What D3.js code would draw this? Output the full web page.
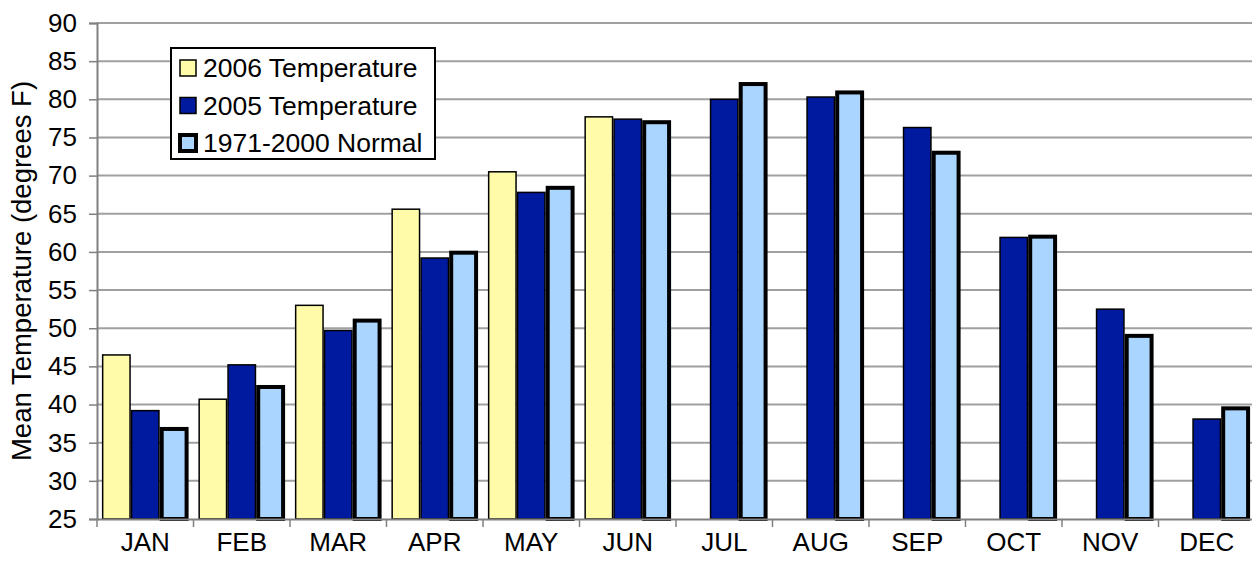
<!DOCTYPE html>
<html>
<head>
<meta charset="utf-8">
<script src="https://cdn.jsdelivr.net/npm/d3@7"></script>
<style>
  body { margin: 0; background: #fff; }
  text { font-family: "Liberation Sans", Arial, sans-serif; fill: #000; }
</style>
</head>
<body>
<svg></svg>
<script>
var months = ["JAN","FEB","MAR","APR","MAY","JUN","JUL","AUG","SEP","OCT","NOV","DEC"];
var series = ["2006 Temperature","2005 Temperature","1971-2000 Normal"];
var temp2006 = [46.5, 40.7, 53.0, 65.6, 70.5, 77.7, null, null, null, null, null, null];
var temp2005 = [39.2, 45.2, 49.7, 59.2, 67.8, 77.4, 80.0, 80.3, 76.3, 61.9, 52.5, 38.1];
var normal   = [36.8, 42.3, 51.0, 59.9, 68.4, 77.0, 82.0, 80.9, 73.0, 62.0, 49.0, 39.5];
var yTicks = [25,30,35,40,45,50,55,60,65,70,75,80,85,90];

var width = 1252;
var height = 567;

var svg = d3.select("svg")
        .attr("width", width)
        .attr("height", height);

var padding = {
  left: 97,
  right: -3,
  top: 23,
  bottom: 48
};

var fills = ["#FFFBA8", "#001A9F", "#A9D5FF"];
var strokeW = [1.5, 1.5, 4];

var xScale = d3.scaleBand()
               .domain(months)
               .range([padding.left, width - padding.right]);

var inner = d3.scaleBand()
              .domain(series)
              .range([0, xScale.bandwidth()])
              .paddingOuter(0.17);

var yScale = d3.scaleLinear()
               .domain([25, 90])
               .range([height - padding.bottom, padding.top]);

// gridlines
svg.append("g")
   .selectAll("line")
   .data(yTicks.slice(1))
   .enter()
   .append("line")
   .attr("x1", padding.left)
   .attr("x2", width)
   .attr("y1", function(d){ return yScale(d); })
   .attr("y2", function(d){ return yScale(d); })
   .attr("stroke", "#A0A0A0")
   .attr("stroke-width", 2);

// bars
var table = months.map(function(m, i){
  return {month: m, values: [temp2006[i], temp2005[i], normal[i]]};
});

var groups = svg.selectAll(".month")
   .data(table)
   .enter()
   .append("g")
   .attr("transform", function(d){ return "translate(" + xScale(d.month) + ",0)"; });

groups.selectAll("rect")
   .data(function(d){
     return d.values.map(function(v, j){ return {key: series[j], v: v, j: j}; })
                    .filter(function(e){ return e.v != null; });
   })
   .enter()
   .append("rect")
   .attr("x", function(d){ return inner(d.key) + strokeW[d.j] / 2; })
   .attr("width", function(d){ return inner.bandwidth() - strokeW[d.j]; })
   .attr("y", function(d){ return yScale(d.v); })
   .attr("height", function(d){ return yScale(25) - yScale(d.v); })
   .attr("fill", function(d){ return fills[d.j]; })
   .attr("stroke", "#000")
   .attr("stroke-width", function(d){ return strokeW[d.j]; });

// y axis
var yAxis = d3.axisLeft(yScale)
              .tickValues(yTicks)
              .tickSize(8)
              .tickPadding(12);

var gy = svg.append("g")
   .attr("transform", "translate(" + padding.left + ",0)")
   .call(yAxis);
gy.select(".domain").attr("stroke", "#808080").attr("stroke-width", 2);
gy.selectAll(".tick line").attr("stroke", "#808080").attr("stroke-width", 1.5);
gy.selectAll(".tick text").attr("font-size", 26).style("font-family", "Liberation Sans, Arial, sans-serif");

// x axis
var xAxis = d3.axisBottom(xScale)
              .tickSize(0)
              .tickPadding(14);

var gx = svg.append("g")
   .attr("transform", "translate(0," + (height - padding.bottom) + ")")
   .call(xAxis);
gx.select(".domain").attr("stroke", "#808080").attr("stroke-width", 2);
gx.selectAll(".tick text").attr("font-size", 26).style("font-family", "Liberation Sans, Arial, sans-serif");

// boundary ticks
svg.append("g")
   .selectAll("line")
   .data(months.concat(["end"]))
   .enter()
   .append("line")
   .attr("x1", function(d, i){ return xScale.range()[0] + i * xScale.step(); })
   .attr("x2", function(d, i){ return xScale.range()[0] + i * xScale.step(); })
   .attr("y1", yScale(25))
   .attr("y2", yScale(25) + 8)
   .attr("stroke", "#808080")
   .attr("stroke-width", 1.5);

// y label
svg.append("text")
   .attr("transform", "translate(31," + ((yScale(25) + yScale(90)) / 2) + ") rotate(-90)")
   .attr("text-anchor", "middle")
   .attr("font-size", 27.5)
   .text("Mean Temperature (degrees F)");

// legend
var legend = svg.append("g").attr("transform", "translate(171,48)");
legend.append("rect")
   .attr("width", 264)
   .attr("height", 111)
   .attr("fill", "#fff")
   .attr("stroke", "#000")
   .attr("stroke-width", 2);

var items = legend.selectAll(".item")
   .data(series)
   .enter()
   .append("g")
   .attr("transform", function(d, i){ return "translate(0," + (20 + i * 37.5) + ")"; });

items.append("rect")
   .attr("x", 9)
   .attr("y", -8)
   .attr("width", 16)
   .attr("height", 16)
   .attr("fill", function(d, i){ return fills[i]; })
   .attr("stroke", "#000")
   .attr("stroke-width", function(d, i){ return i == 2 ? 4 : 1.5; });

items.append("text")
   .attr("x", 32)
   .attr("y", 9)
   .attr("font-size", 26.5)
   .text(function(d){ return d; });
</script>
</body>
</html>
